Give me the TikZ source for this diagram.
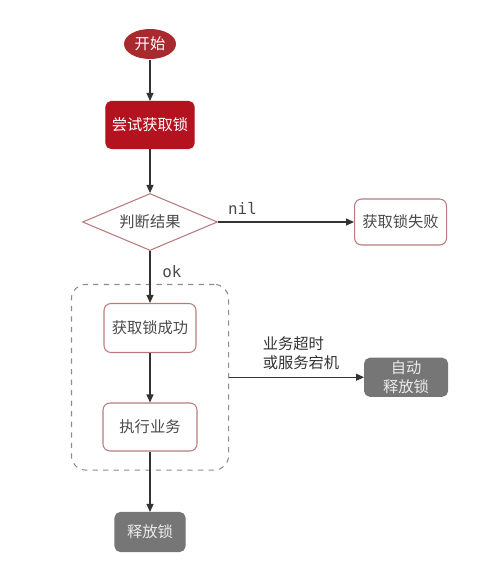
\documentclass[tikz,border=0pt]{standalone}
\usepackage{fontspec}
\setmainfont{Noto Sans CJK SC}
\setmonofont{DejaVu Sans Mono}
\usepackage{xcolor}
\usepackage{tikz}
\usetikzlibrary{arrows.meta, positioning, shapes.geometric, fit}

\definecolor{lockred}{HTML}{B3121E}
\definecolor{startred}{HTML}{A82A2E}
\definecolor{edgepink}{HTML}{B97A7E}
\definecolor{boxgray}{HTML}{767676}
\definecolor{txtgray}{HTML}{4A4A4A}

\begin{document}
\begin{tikzpicture}[node distance=2cm, line width=0.6pt, >={Triangle[length=0.16cm, width=0.14cm]},
    every node/.style={font=\fontsize{8.7}{11}\selectfont},
    redbox/.style={rectangle, rounded corners=3pt, fill=lockred, draw=lockred, text=white},
    plain/.style={rectangle, rounded corners=4pt, draw=edgepink, fill=white, text=txtgray},
    graybox/.style={rectangle, rounded corners=3pt, fill=boxgray, draw=boxgray, text=white!92!black},
    flow/.style={->, draw=black!80},
    tag/.style={font=\ttfamily\fontsize{9}{11}\selectfont, text=txtgray, inner sep=1pt}]
    \useasboundingbox (0,0) rectangle (9.62,-11.4);

    \node[ellipse, fill=startred, text=white, minimum width=1.04cm, minimum height=0.6cm, inner sep=0pt] (start) at (3.0,-0.88) {开始};

    \node[redbox, below of=start, node distance=1.62cm, minimum width=1.74cm, minimum height=0.94cm] (try) {尝试获取锁};

    \node[diamond, draw=edgepink, fill=white, text=txtgray, aspect=2.4, inner sep=0pt,
        minimum width=2.7cm, minimum height=1.14cm, below of=try, node distance=1.94cm] (check) {判断结果};

    \node[plain, right=2.72cm of check, minimum width=1.84cm, minimum height=0.92cm] (fail) {获取锁失败};

    \node[plain, below of=check, node distance=2.12cm, minimum width=1.84cm, minimum height=0.98cm] (got) {获取锁成功};

    \node[plain, below of=got, node distance=1.98cm, minimum width=1.88cm, minimum height=0.96cm] (work) {执行业务};

    \node[draw=black!45, dashed, rounded corners=8pt, fit=(got)(work), inner xsep=0.62cm, inner ysep=0.37cm] (box) {};

    \node[graybox, right=2.7cm of box, minimum width=1.66cm, minimum height=0.76cm, align=center, inner sep=1pt] (auto) {自动\\释放锁};

    \node[graybox, below of=work, node distance=2.1cm, minimum width=1.4cm, minimum height=0.78cm] (release) {释放锁};

    \draw[flow] (start) -- (try);
    \draw[flow] (try) -- (check);
    \draw[flow] (check) -- node[tag, pos=0.18, above=0.1cm] {nil} (fail);
    \draw[flow] (check) -- node[tag, pos=0.4, right=0.2cm] {ok} (got);
    \draw[flow] (got) -- (work);
    \draw[flow] (work) -- (release);
    \draw[flow] (box) -- node[pos=0.5, above=0.14cm, xshift=0.09cm, align=left, inner sep=0pt, text=black!80] {业务超时\\或服务宕机} (auto);
\end{tikzpicture}
\end{document}
